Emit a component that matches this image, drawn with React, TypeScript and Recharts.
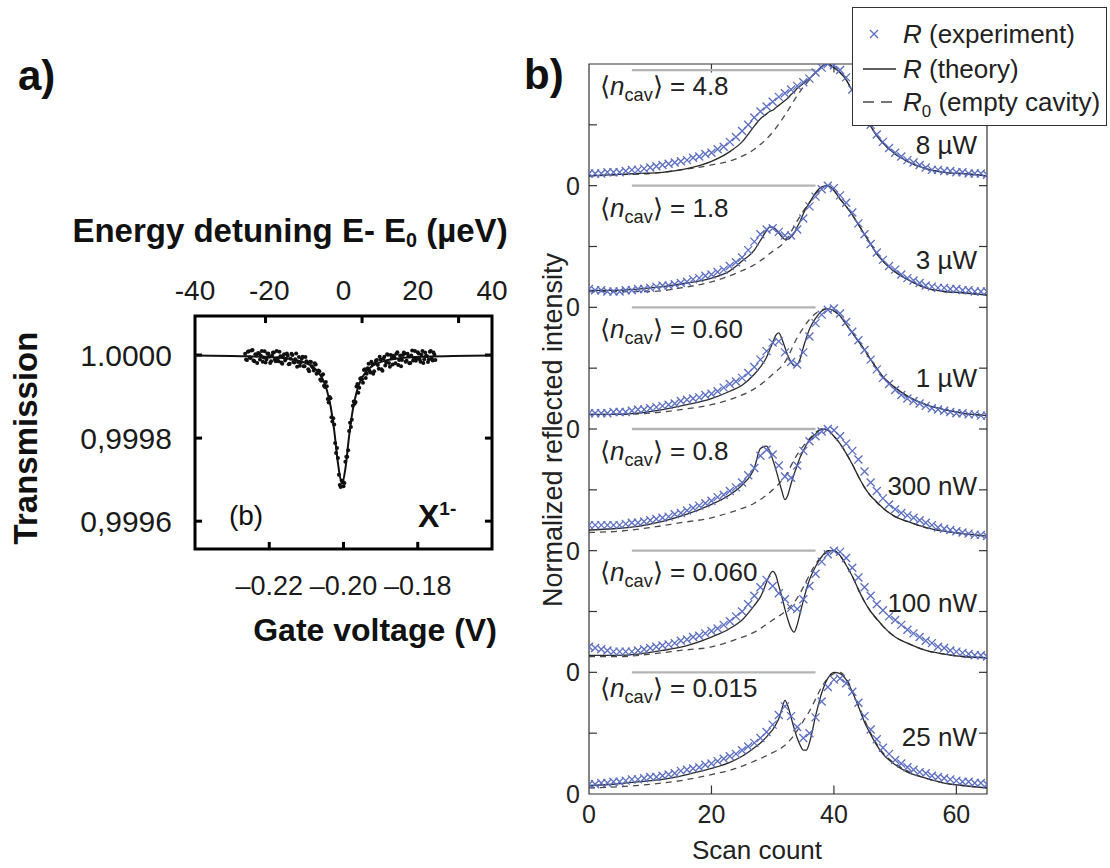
import React from 'react';
import { ComposedChart, Line, Scatter, XAxis, YAxis, ReferenceLine, ReferenceArea } from 'recharts';

// ---------- panel a: transmission dip of the X1- line ----------
const gateVoltage = [
  -0.2265, -0.226, -0.2255, -0.225, -0.2245, -0.224, -0.2235, -0.223, -0.2225, -0.222,
  -0.2215, -0.221, -0.2205, -0.22, -0.2195, -0.219, -0.2185, -0.218, -0.2175, -0.217,
  -0.2165, -0.216, -0.2155, -0.215, -0.2145, -0.214, -0.2135, -0.213, -0.2125, -0.212,
  -0.2115, -0.211, -0.2105, -0.21, -0.2095, -0.209, -0.2085, -0.208, -0.2075, -0.207,
  -0.2065, -0.206, -0.2055, -0.205, -0.2045, -0.204, -0.2035, -0.203, -0.2025, -0.202,
  -0.2015, -0.201, -0.2005, -0.2, -0.1995, -0.199, -0.1985, -0.198, -0.1975, -0.197,
  -0.1965, -0.196, -0.1955, -0.195, -0.1945, -0.194, -0.1935, -0.193, -0.1925, -0.192,
  -0.1915, -0.191, -0.1905, -0.19, -0.1895, -0.189, -0.1885, -0.188, -0.1875, -0.187,
  -0.1865, -0.186, -0.1855, -0.185, -0.1845, -0.184, -0.1835, -0.183, -0.1825, -0.182,
  -0.1815, -0.181, -0.1805, -0.18, -0.1795, -0.179, -0.1785, -0.178, -0.1775, -0.177,
  -0.1765, -0.176, -0.1755,
];
// deviation from 1 in ppm (1e-6)
const transmissionPpm = [
  3, -12, 9, -7, 12, -15, -1, 5, -11, 10,
  -6, -18, 3, -4, -15, 6, -11, 10, -15, -3,
  -21, 2, -9, -2, -21, 3, -17, -10, -28, -5,
  -18, -4, -27, -15, -34, -16, -27, -37, -23, -43,
  -39, -62, -46, -77, -75, -114, -104, -160, -167, -236,
  -248, -313, -302, -316, -257, -245, -183, -173, -122, -117,
  -76, -91, -57, -58, -36, -55, -32, -38, -16, -45,
  -20, -12, -33, -11, -38, -4, -18, 1, -28, -8,
  -2, -20, 7, -12, -27, 0, 4, -14, -3, -19,
  11, -7, -14, 7, -10, 1, -19, 6, -3, -11,
  10, -13, 1,
];
const gateVoltage2 = [
  -0.22625, -0.22575, -0.22525, -0.22475, -0.22425, -0.22375, -0.22325, -0.22275, -0.22225, -0.22175,
  -0.22125, -0.22075, -0.22025, -0.21975, -0.21925, -0.21875, -0.21825, -0.21775, -0.21725, -0.21675,
  -0.21625, -0.21575, -0.21525, -0.21475, -0.21425, -0.21375, -0.21325, -0.21275, -0.21225, -0.21175,
  -0.21125, -0.21075, -0.21025, -0.20975, -0.20925, -0.20875, -0.20825, -0.20775, -0.20725, -0.20675,
  -0.20625, -0.20575, -0.20525, -0.20475, -0.20425, -0.20375, -0.20325, -0.20275, -0.20225, -0.20175,
  -0.20125, -0.20075, -0.20025, -0.19975, -0.19925, -0.19875, -0.19825, -0.19775, -0.19725, -0.19675,
  -0.19625, -0.19575, -0.19525, -0.19475, -0.19425, -0.19375, -0.19325, -0.19275, -0.19225, -0.19175,
  -0.19125, -0.19075, -0.19025, -0.18975, -0.18925, -0.18875, -0.18825, -0.18775, -0.18725, -0.18675,
  -0.18625, -0.18575, -0.18525, -0.18475, -0.18425, -0.18375, -0.18325, -0.18275, -0.18225, -0.18175,
  -0.18125, -0.18075, -0.18025, -0.17975, -0.17925, -0.17875, -0.17825, -0.17775, -0.17725, -0.17675,
  -0.17625, -0.17575, -0.17525,
];
const transmissionPpm2 = [
  -11, 8, -6, 11, -13, 2, -19, 4, -2, -16,
  9, -11, 4, -19, -1, 6, -15, -8, 8, -18,
  -2, -13, 4, -22, -9, 0, -18, 4, -17, -26,
  -9, -27, -5, -18, -39, -17, -30, -20, -45, -37,
  -59, -48, -74, -65, -106, -101, -150, -152, -212, -224,
  -288, -318, -303, -308, -245, -229, -163, -156, -112, -113,
  -70, -79, -55, -67, -34, -45, -21, -42, -22, -39,
  -13, -24, -4, -34, -9, -25, 2, -19, 0, -23,
  -6, 3, -24, -1, -12, 6, -16, 3, -20, -1,
  -13, 10, -8, 4, -16, 10, -10, -2, -17, 8,
  -8, 6, -12,
];
const fitVoltage = [-0.24, -0.226, -0.218, -0.213, -0.21, -0.208, -0.2065, -0.2055, -0.2045, -0.2035, -0.2025, -0.2015, -0.2004, -0.1995, -0.1985, -0.1975, -0.1965, -0.1955, -0.194, -0.192, -0.189, -0.185, -0.178, -0.16];
const fitPpm = [-1, -3, -6, -12, -20, -30, -45, -60, -84, -122, -182, -260, -310, -274, -196, -132, -90, -64, -41, -25, -14, -8, -4, -1];

const voltageTicks = [-0.22, -0.2, -0.18];
const energyTicks = [-40, -20, 0, 20, 40];
const energyTickMarks = [-21, 5, 31];
const transmissionTicks = [-400, -200, 0];
const transmissionLabels: Record<number, string> = { 0: '1.0000', [-200]: '0,9998', [-400]: '0,9996' };

// ---------- panel b: reflection spectra ----------
const scanCount = [
  0, 1, 2, 3, 4, 5, 6, 7, 8, 9, 10, 11, 12, 13, 14, 15, 16, 17, 18, 19, 20, 21, 22, 23, 24, 25, 26, 27, 28, 29, 30, 31, 32,
  33, 34, 35, 36, 37, 38, 39, 40, 41, 42, 43, 44, 45, 46, 47, 48, 49, 50, 51, 52, 53, 54, 55, 56, 57, 58, 59, 60, 61, 62, 63, 64, 65,
];
const theoryScan = [0, 4, 8, 12, 16, 20, 23, 25, 27, 28, 29, 29.5, 30, 30.5, 31, 31.5, 32, 32.5, 33, 33.5, 34, 34.5, 35, 35.5, 36, 37, 38, 39, 40, 41, 42, 43, 44, 45, 46, 47, 48, 50, 52, 55, 58, 61, 65];
const emptyScan = [0, 5, 10, 15, 20, 24, 27, 30, 32, 34, 35, 36, 37, 38, 39, 40, 41, 42, 43, 44, 45, 46, 48, 50, 52, 55, 58, 61, 65];

const exp25nW = [0.08, 0.08, 0.09, 0.09, 0.1, 0.1, 0.11, 0.12, 0.12, 0.13, 0.14, 0.14, 0.15, 0.16, 0.17, 0.19, 0.2, 0.21, 0.22, 0.24, 0.25, 0.27, 0.29, 0.31, 0.33, 0.36, 0.39, 0.42, 0.46, 0.51, 0.57, 0.65, 0.72, 0.64, 0.55, 0.46, 0.5, 0.63, 0.76, 0.88, 0.94, 0.95, 0.91, 0.84, 0.75, 0.64, 0.53, 0.45, 0.38, 0.33, 0.28, 0.25, 0.22, 0.2, 0.18, 0.17, 0.15, 0.14, 0.13, 0.12, 0.11, 0.1, 0.1, 0.09, 0.09, 0.08];
const exp100nW = [0.21, 0.2, 0.19, 0.18, 0.17, 0.17, 0.17, 0.17, 0.18, 0.19, 0.2, 0.21, 0.22, 0.23, 0.24, 0.26, 0.27, 0.29, 0.3, 0.32, 0.34, 0.36, 0.39, 0.42, 0.46, 0.5, 0.56, 0.63, 0.7, 0.76, 0.71, 0.65, 0.6, 0.53, 0.52, 0.6, 0.71, 0.81, 0.91, 0.97, 1.0, 0.99, 0.94, 0.86, 0.78, 0.7, 0.63, 0.56, 0.51, 0.46, 0.43, 0.39, 0.35, 0.32, 0.29, 0.26, 0.24, 0.21, 0.2, 0.18, 0.17, 0.16, 0.15, 0.14, 0.14, 0.13];
const exp300nW = [0.21, 0.21, 0.21, 0.21, 0.21, 0.21, 0.22, 0.23, 0.23, 0.24, 0.25, 0.26, 0.27, 0.28, 0.3, 0.31, 0.33, 0.35, 0.37, 0.39, 0.41, 0.44, 0.46, 0.49, 0.52, 0.56, 0.62, 0.68, 0.78, 0.83, 0.79, 0.7, 0.61, 0.6, 0.7, 0.82, 0.9, 0.94, 0.98, 1.0, 0.99, 0.94, 0.88, 0.82, 0.75, 0.65, 0.56, 0.49, 0.43, 0.38, 0.34, 0.31, 0.29, 0.27, 0.25, 0.23, 0.21, 0.19, 0.18, 0.17, 0.16, 0.15, 0.14, 0.13, 0.13, 0.12];
const exp1uW = [0.13, 0.13, 0.13, 0.13, 0.14, 0.14, 0.14, 0.15, 0.16, 0.16, 0.17, 0.18, 0.19, 0.2, 0.21, 0.23, 0.24, 0.25, 0.26, 0.28, 0.29, 0.31, 0.34, 0.37, 0.39, 0.42, 0.46, 0.51, 0.57, 0.64, 0.71, 0.72, 0.63, 0.55, 0.53, 0.63, 0.76, 0.87, 0.94, 0.98, 0.99, 0.95, 0.88, 0.8, 0.73, 0.65, 0.57, 0.49, 0.42, 0.37, 0.32, 0.28, 0.25, 0.23, 0.21, 0.19, 0.17, 0.16, 0.15, 0.14, 0.13, 0.13, 0.12, 0.12, 0.11, 0.11];
const exp3uW = [0.15, 0.14, 0.14, 0.13, 0.13, 0.13, 0.14, 0.14, 0.15, 0.15, 0.16, 0.17, 0.18, 0.18, 0.19, 0.2, 0.21, 0.23, 0.24, 0.26, 0.27, 0.29, 0.31, 0.34, 0.37, 0.41, 0.47, 0.54, 0.6, 0.64, 0.65, 0.62, 0.59, 0.59, 0.64, 0.73, 0.83, 0.91, 0.97, 1.0, 0.98, 0.92, 0.86, 0.78, 0.69, 0.6, 0.52, 0.45, 0.39, 0.34, 0.31, 0.27, 0.24, 0.22, 0.2, 0.18, 0.17, 0.16, 0.16, 0.15, 0.15, 0.14, 0.14, 0.13, 0.13, 0.13];
const exp8uW = [0.1, 0.1, 0.1, 0.11, 0.11, 0.11, 0.12, 0.13, 0.13, 0.14, 0.15, 0.16, 0.17, 0.18, 0.19, 0.2, 0.21, 0.23, 0.24, 0.26, 0.27, 0.3, 0.32, 0.36, 0.4, 0.45, 0.5, 0.56, 0.61, 0.65, 0.69, 0.73, 0.76, 0.79, 0.82, 0.85, 0.88, 0.93, 0.97, 1.0, 0.99, 0.95, 0.89, 0.79, 0.69, 0.59, 0.5, 0.42, 0.36, 0.31, 0.27, 0.24, 0.21, 0.19, 0.17, 0.15, 0.13, 0.13, 0.12, 0.12, 0.11, 0.11, 0.1, 0.1, 0.1, 0.09];

const theory25nW = [0.07, 0.08, 0.1, 0.12, 0.16, 0.21, 0.26, 0.31, 0.38, 0.42, 0.47, 0.5, 0.53, 0.57, 0.62, 0.7, 0.77, 0.72, 0.63, 0.54, 0.46, 0.4, 0.36, 0.36, 0.42, 0.64, 0.83, 0.95, 1.0, 0.99, 0.94, 0.84, 0.72, 0.59, 0.49, 0.4, 0.33, 0.24, 0.18, 0.13, 0.09, 0.07, 0.05];
const theory100nW = [0.14, 0.14, 0.15, 0.18, 0.22, 0.29, 0.36, 0.43, 0.55, 0.62, 0.74, 0.8, 0.83, 0.8, 0.71, 0.62, 0.52, 0.43, 0.36, 0.33, 0.39, 0.49, 0.59, 0.68, 0.76, 0.87, 0.95, 1.0, 1.0, 0.96, 0.88, 0.79, 0.68, 0.58, 0.5, 0.44, 0.38, 0.29, 0.24, 0.18, 0.15, 0.13, 0.12];
const theory300nW = [0.17, 0.18, 0.2, 0.24, 0.3, 0.38, 0.46, 0.54, 0.68, 0.84, 0.86, 0.82, 0.75, 0.67, 0.58, 0.49, 0.42, 0.46, 0.55, 0.63, 0.7, 0.77, 0.82, 0.87, 0.91, 0.96, 1.0, 0.99, 0.94, 0.88, 0.8, 0.71, 0.61, 0.52, 0.45, 0.4, 0.35, 0.28, 0.24, 0.19, 0.16, 0.14, 0.12];
const theory1uW = [0.12, 0.12, 0.13, 0.16, 0.2, 0.25, 0.31, 0.36, 0.45, 0.51, 0.59, 0.65, 0.71, 0.77, 0.79, 0.74, 0.67, 0.6, 0.55, 0.52, 0.53, 0.58, 0.67, 0.75, 0.82, 0.91, 0.97, 0.99, 0.97, 0.93, 0.86, 0.79, 0.72, 0.65, 0.57, 0.5, 0.43, 0.34, 0.27, 0.2, 0.16, 0.13, 0.11];
const theory3uW = [0.14, 0.14, 0.15, 0.17, 0.2, 0.24, 0.3, 0.38, 0.47, 0.55, 0.63, 0.66, 0.66, 0.64, 0.61, 0.58, 0.56, 0.56, 0.58, 0.61, 0.66, 0.71, 0.77, 0.82, 0.86, 0.94, 0.99, 1.0, 0.96, 0.89, 0.83, 0.76, 0.68, 0.6, 0.52, 0.44, 0.38, 0.29, 0.23, 0.16, 0.13, 0.12, 0.1];
const theory8uW = [0.08, 0.09, 0.1, 0.11, 0.14, 0.2, 0.28, 0.36, 0.49, 0.55, 0.59, 0.61, 0.62, 0.64, 0.66, 0.68, 0.7, 0.72, 0.75, 0.77, 0.8, 0.82, 0.84, 0.86, 0.88, 0.93, 0.98, 1.0, 0.97, 0.93, 0.87, 0.78, 0.68, 0.58, 0.49, 0.41, 0.35, 0.26, 0.2, 0.14, 0.11, 0.1, 0.08];

const empty25nW = [0.05, 0.06, 0.08, 0.11, 0.16, 0.21, 0.27, 0.34, 0.4, 0.52, 0.6, 0.68, 0.78, 0.88, 0.95, 0.99, 1.0, 0.95, 0.85, 0.73, 0.61, 0.5, 0.34, 0.25, 0.19, 0.13, 0.09, 0.07, 0.05];
const empty100nW = [0.13, 0.13, 0.15, 0.18, 0.21, 0.27, 0.33, 0.43, 0.5, 0.61, 0.7, 0.8, 0.89, 0.95, 0.99, 1.0, 0.96, 0.88, 0.79, 0.68, 0.58, 0.5, 0.38, 0.29, 0.24, 0.18, 0.15, 0.13, 0.12];
const empty300nW = [0.15, 0.16, 0.19, 0.23, 0.27, 0.33, 0.39, 0.5, 0.61, 0.79, 0.86, 0.92, 0.97, 1.0, 0.99, 0.94, 0.88, 0.8, 0.71, 0.61, 0.52, 0.45, 0.35, 0.28, 0.24, 0.19, 0.16, 0.14, 0.12];
const empty1uW = [0.12, 0.12, 0.13, 0.16, 0.2, 0.26, 0.33, 0.45, 0.55, 0.75, 0.83, 0.9, 0.95, 0.98, 0.99, 0.97, 0.93, 0.86, 0.79, 0.72, 0.65, 0.57, 0.43, 0.34, 0.27, 0.2, 0.16, 0.13, 0.11];
const empty3uW = [0.13, 0.13, 0.13, 0.16, 0.21, 0.28, 0.35, 0.46, 0.54, 0.71, 0.79, 0.86, 0.93, 0.98, 1.0, 0.96, 0.89, 0.83, 0.76, 0.68, 0.6, 0.52, 0.38, 0.29, 0.23, 0.16, 0.13, 0.12, 0.1];
const empty8uW = [0.08, 0.09, 0.1, 0.13, 0.17, 0.22, 0.3, 0.44, 0.58, 0.74, 0.81, 0.87, 0.93, 0.98, 1.0, 0.97, 0.93, 0.87, 0.78, 0.68, 0.58, 0.49, 0.35, 0.26, 0.2, 0.14, 0.11, 0.1, 0.08];

// bottom to top
const powers = ['25 nW', '100 nW', '300 nW', '1 \u00b5W', '3 \u00b5W', '8 \u00b5W'];
const nCav = ['0.015', '0.060', '0.8', '0.60', '1.8', '4.8'];
const expSeries = [exp25nW, exp100nW, exp300nW, exp1uW, exp3uW, exp8uW];
const theorySeries = [theory25nW, theory100nW, theory300nW, theory1uW, theory3uW, theory8uW];
const emptySeries = [empty25nW, empty100nW, empty300nW, empty1uW, empty3uW, empty8uW];
const refLevel = [1, 1, 1, 1, 1, 0.95];
const refStart = 7;
const refEnd = 37;

const scanTicks = [0, 20, 40, 60];
const zeroTicks = [0, 1, 2, 3, 4, 5];
const halfTicks = [0.5, 1, 1.5, 2, 2.5, 3, 3.5, 4, 4.5, 5, 5.5];

const BLUE = '#5b6ec2';
const FONT = '"Liberation Sans", Arial, Helvetica, sans-serif';

const pts = (xs: number[], ys: number[], off = 0) =>
  xs.map((x, i) => ({ x, y: ys[i] + off }));

const Cross = (props: any) => {
  const { cx, cy } = props;
  if (cx == null || cy == null) return null;
  const s = 4;
  return (
    <path
      d={`M${cx - s},${cy - s}L${cx + s},${cy + s}M${cx - s},${cy + s}L${cx + s},${cy - s}`}
      stroke={BLUE}
      strokeWidth={1.3}
      fill="none"
    />
  );
};

const Dot = (props: any) => {
  const { cx, cy } = props;
  if (cx == null || cy == null) return null;
  return <circle cx={cx} cy={cy} r={2} fill="#111" />;
};

function PanelA() {
  const dots = pts(gateVoltage, transmissionPpm);
  const dots2 = pts(gateVoltage2, transmissionPpm2);
  const fit = pts(fitVoltage, fitPpm);
  const energyAnchor = energyTicks.map((e) => ({ x: e, y: 0 }));
  const tickA = { fontSize: 30, fill: '#1a1a1a' };
  return (
    <ComposedChart width={520} height={700} margin={{ top: 276, right: 28, bottom: 111, left: 135 }}>
      <XAxis xAxisId="v" dataKey="x" type="number" domain={[-0.24, -0.16]} ticks={voltageTicks}
        tickFormatter={(v: number) => v.toFixed(2).replace('-', '\u2013')}
        axisLine={false} tickLine={false} tickSize={6} tickMargin={21} height={40}
        tick={{ fontSize: 27, fill: '#1a1a1a' }} allowDataOverflow />
      <XAxis xAxisId="e" dataKey="x" orientation="top" type="number" domain={[-40, 40]} ticks={energyTicks}
        tickFormatter={(v: number) => String(v)}
        axisLine={false} tickLine={false} tickSize={6} tickMargin={10} height={40} tick={{ fontSize: 28, fill: '#1a1a1a' }} allowDataOverflow />
      <YAxis dataKey="y" type="number" domain={[-467, 94]} ticks={transmissionTicks}
        tickFormatter={(v: number) => transmissionLabels[v] ?? ''}
        axisLine={false} tickLine={false} tickSize={6} tickMargin={17} width={60} tick={tickA} allowDataOverflow />
      <Line xAxisId="e" data={energyAnchor} dataKey="y" stroke="none" strokeWidth={0} dot={false} activeDot={false} isAnimationActive={false} />
      {transmissionTicks.map((t) => (
        <ReferenceLine key={'l' + t} xAxisId="v" segment={[{ x: -0.24, y: t }, { x: -0.2381, y: t }]} stroke="#000" strokeWidth={3} ifOverflow="visible" />
      ))}
      {transmissionTicks.map((t) => (
        <ReferenceLine key={'r' + t} xAxisId="v" segment={[{ x: -0.1619, y: t }, { x: -0.16, y: t }]} stroke="#000" strokeWidth={3} ifOverflow="visible" />
      ))}
      {voltageTicks.map((t) => (
        <ReferenceLine key={'b' + t} xAxisId="v" segment={[{ x: t, y: -467 }, { x: t, y: -450 }]} stroke="#000" strokeWidth={3} ifOverflow="visible" />
      ))}
      {energyTickMarks.map((t) => (
        <ReferenceLine key={'t' + t} xAxisId="e" segment={[{ x: t, y: 94 }, { x: t, y: 77 }]} stroke="#000" strokeWidth={3} ifOverflow="visible" />
      ))}
      <Scatter xAxisId="v" data={dots} dataKey="y" shape={Dot} isAnimationActive={false} />
      <Scatter xAxisId="v" data={dots2} dataKey="y" shape={Dot} isAnimationActive={false} />
      <Line xAxisId="v" data={fit} dataKey="y" type="monotone" stroke="#111" strokeWidth={2} dot={false} activeDot={false} isAnimationActive={false} />
      <ReferenceArea xAxisId="v" x1={-0.24} x2={-0.16} y1={-467} y2={94} fill="none" stroke="#000" strokeWidth={3} ifOverflow="visible" />
    </ComposedChart>
  );
}

function PanelB() {
  const tickB = { fontSize: 25, fill: '#222' };
  return (
    <ComposedChart width={590} height={868} margin={{ top: 64, right: 123, bottom: 44, left: 28 }}>
      <XAxis dataKey="x" type="number" domain={[0, 65]} ticks={scanTicks} axisLine={false} tickLine={false}
        tickSize={6} tickMargin={5} height={30} tick={tickB} allowDataOverflow />
      <YAxis dataKey="y" type="number" domain={[0, 6]} ticks={zeroTicks} tickFormatter={() => '0'}
        axisLine={false} tickLine={false} tickSize={6} tickMargin={3} width={41} tick={tickB} allowDataOverflow />
      {halfTicks.map((t) => (
        <ReferenceLine key={'l' + t} segment={[{ x: 0, y: t }, { x: 1.3, y: t }]} stroke="#333" strokeWidth={1.2} ifOverflow="visible" />
      ))}
      {halfTicks.map((t) => (
        <ReferenceLine key={'r' + t} segment={[{ x: 63.7, y: t }, { x: 65, y: t }]} stroke="#333" strokeWidth={1.2} ifOverflow="visible" />
      ))}
      {scanTicks.slice(1).map((t) => (
        <ReferenceLine key={'b' + t} segment={[{ x: t, y: 0 }, { x: t, y: 0.07 }]} stroke="#333" strokeWidth={1.2} ifOverflow="visible" />
      ))}
      {scanTicks.slice(1).map((t) => (
        <ReferenceLine key={'t' + t} segment={[{ x: t, y: 5.93 }, { x: t, y: 6 }]} stroke="#333" strokeWidth={1.2} ifOverflow="visible" />
      ))}
      {refLevel.map((lv, k) => (
        <ReferenceLine key={'g' + k} segment={[{ x: refStart, y: lv + k }, { x: refEnd, y: lv + k }]} stroke="#b4b4b4" strokeWidth={2.4} ifOverflow="visible" />
      ))}
      {expSeries.map((s, k) => (
        <Scatter key={'e' + k} data={pts(scanCount, s, k)} dataKey="y" shape={Cross} isAnimationActive={false} />
      ))}
      {emptySeries.map((s, k) => (
        <Line key={'d' + k} data={pts(emptyScan, s, k)} dataKey="y" type="monotone" stroke="#4a4a4a" strokeWidth={1.3}
          strokeDasharray="6 5" dot={false} activeDot={false} isAnimationActive={false} />
      ))}
      {theorySeries.map((s, k) => (
        <Line key={'t' + k} data={pts(theoryScan, s, k)} dataKey="y" type="monotone" stroke="#2a2a2a" strokeWidth={1.3}
          dot={false} activeDot={false} isAnimationActive={false} />
      ))}
      <ReferenceArea x1={0} x2={65} y1={0} y2={6} fill="none" stroke="#333" strokeWidth={1.2} ifOverflow="visible" />
    </ComposedChart>
  );
}

const abs = (left: number, top: number, extra: React.CSSProperties = {}): React.CSSProperties => ({
  position: 'absolute', left, top, lineHeight: 1, whiteSpace: 'nowrap', ...extra,
});

const nCavCenter = [688, 572, 451, 329, 208, 86];
const powerCenter = [737, 603, 486, 378, 260, 145];

export default function App() {
  return (
    <div style={{ position: 'absolute', left: 0, top: 0, width: 1110, height: 868, background: '#fff', overflow: 'hidden', fontFamily: FONT, color: '#111' }}>
      <div style={{ position: 'absolute', left: 0, top: 0 }}><PanelA /></div>
      <div style={{ position: 'absolute', left: 520, top: 0 }}><PanelB /></div>

      {/* panel a texts */}
      <div style={abs(18, 55, { fontSize: 42, fontWeight: 700 })}>a)</div>
      <div style={abs(290, 232, { fontSize: 33, fontWeight: 700, transform: 'translate(-50%,-50%)' })}>
        Energy detuning E- E<sub style={{ fontSize: '0.6em', verticalAlign: '-0.25em' }}>0</sub> (µeV)
      </div>
      <div style={abs(25, 438, { fontSize: 33, fontWeight: 700, transform: 'translate(-50%,-50%) rotate(-90deg)' })}>Transmission</div>
      <div style={abs(375, 630, { fontSize: 32, fontWeight: 700, transform: 'translate(-50%,-50%)' })}>Gate voltage (V)</div>
      <div style={abs(246, 516, { fontSize: 28, transform: 'translate(-50%,-50%)' })}>(b)</div>
      <div style={abs(418, 516, { fontSize: 32, fontWeight: 700, transform: 'translateY(-50%)' })}>
        X<span style={{ fontSize: 19, position: 'relative', top: -12 }}>1-</span>
      </div>

      {/* panel b texts */}
      <div style={abs(524, 54, { fontSize: 42, fontWeight: 700 })}>b)</div>
      {nCav.map((n, k) => (
        <div key={'n' + k} style={abs(600, nCavCenter[k], { fontSize: 26, color: '#222', transform: 'translateY(-50%)' })}>
          {'\u27e8'}<i>n</i><span style={{ fontSize: '0.7em', position: 'relative', top: '0.35em' }}>cav</span>{'\u27e9'} = {n}
        </div>
      ))}
      {powers.map((p, k) => (
        <div key={'p' + k} style={abs(0, powerCenter[k], { right: 133, left: 'auto', fontSize: 26, color: '#222', transform: 'translateY(-50%)' })}>{p}</div>
      ))}
      <div style={abs(757, 850, { fontSize: 26, color: '#222', transform: 'translate(-50%,-50%)' })}>Scan count</div>
      <div style={abs(553, 430, { fontSize: 27, color: '#222', transform: 'translate(-50%,-50%) rotate(-90deg)' })}>Normalized reflected intensity</div>

      {/* legend */}
      <div style={{ position: 'absolute', left: 852, top: 7, width: 255, height: 119, boxSizing: 'border-box', border: '1.3px solid #333', background: '#fff', color: '#222' }}>
        <svg width={45} height={115} style={{ position: 'absolute', left: 0, top: 0 }}>
          <path d="M17,22L25,30M17,30L25,22" stroke={BLUE} strokeWidth={1.3} />
          <line x1={10} y1={61} x2={43} y2={61} stroke="#2a2a2a" strokeWidth={1.3} />
          <line x1={10} y1={94} x2={43} y2={94} stroke="#4a4a4a" strokeWidth={1.3} strokeDasharray="11 7" />
        </svg>
        <div style={abs(50, 26, { fontSize: 26, transform: 'translateY(-50%)' })}><i>R</i> (experiment)</div>
        <div style={abs(50, 61, { fontSize: 26, transform: 'translateY(-50%)' })}><i>R</i> (theory)</div>
        <div style={abs(50, 94, { fontSize: 26, transform: 'translateY(-50%)' })}>
          <i>R</i><span style={{ fontSize: '0.65em', position: 'relative', top: '0.35em' }}>0</span> (empty cavity)
        </div>
      </div>
    </div>
  );
}
